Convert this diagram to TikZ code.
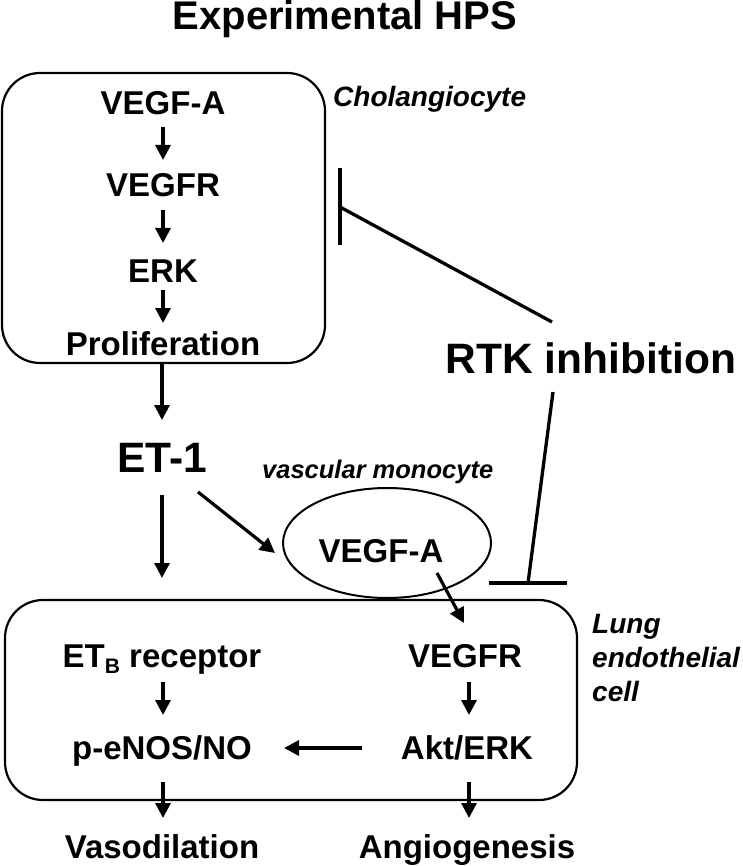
\documentclass[tikz,border=0pt]{standalone}
\usepackage{fontspec}
\setmainfont{Liberation Sans}
\usetikzlibrary{arrows.meta,shapes.geometric}
\tikzset{
  body/.style={font=\bfseries\fontsize{33}{39}\selectfont, inner sep=0pt},
  big/.style={font=\bfseries\fontsize{42.5}{48}\selectfont, inner sep=0pt},
  lab/.style={font=\bfseries\itshape\fontsize{28}{34}\selectfont, inner sep=0pt},
  arr/.style={line width=3.2pt, -{Triangle[length=15pt,width=15pt]}},
  inh/.style={line width=3.3pt},
  cellbox/.style={draw, line width=2.2pt, rounded corners=38pt, inner sep=0pt}
}
\begin{document}
\begin{tikzpicture}[x=1pt,y=-1pt]
\useasboundingbox (0,0) rectangle (742,866);
% title
\node[font=\bfseries\fontsize{40}{46}\selectfont, inner sep=0pt, anchor=base] (title) at (345,30) {Experimental HPS};
% top cell
\node[cellbox, minimum width=323pt, minimum height=290pt] (cholbox) at (163.5,218) {};
\node[lab, anchor=base west] (chol) at (333,107) {Cholangiocyte};
\node[body, anchor=base] (vegfa) at (163,115) {VEGF-A};
\node[body, anchor=base] (vegfr) at (163,197) {VEGFR};
\node[body, anchor=base] (erk) at (163,282) {ERK};
\node[body, anchor=base] (prolif) at (163,355) {Proliferation};
\draw[arr] ([shift={(0,12)}]vegfa.base) -- ([shift={(0,-37)}]vegfr.base);
\draw[arr] ([shift={(0,13)}]vegfr.base) -- ([shift={(0,-39)}]erk.base);
\draw[arr] ([shift={(0,8)}]erk.base) -- ([shift={(0,-32)}]prolif.base);
% ET-1
\node[big, anchor=base] (et1) at (162,472) {ET-1};
\draw[arr] (cholbox.south -| et1.base) -- ([shift={(0,-52)}]et1.base);
\coordinate (etdown) at (162,578);
\draw[arr] ([shift={(0,23)}]et1.base) -- (etdown);
% monocyte
\node[lab, font=\bfseries\itshape\fontsize{25.5}{30}\selectfont, anchor=base west] (vmono) at (262,478) {vascular monocyte};
\node[draw, ellipse, line width=2pt, minimum width=208pt, minimum height=110pt, inner sep=0pt] (mono) at (387,543) {};
\node[body, anchor=base] (vegfa2) at (381,562) {VEGF-A};
\draw[arr] ([shift={(36,20)}]et1.base) -- ([shift={(-7,10)}]mono.west);
% RTK inhibition
\node[big, anchor=base] (rtk) at (591,373) {RTK inhibition};
\coordinate (bar1) at (340,207);
\draw[inh] ([shift={(-39,-51)}]rtk.base) -- (bar1);
\draw[inh] ([shift={(0,-39)}]bar1) -- ([shift={(0,38)}]bar1);
\coordinate (bar2) at (528,583);
\draw[inh] ([shift={(-38,19)}]rtk.base) -- (bar2);
\draw[inh] ([shift={(-39,0)}]bar2) -- ([shift={(39,0)}]bar2);
% bottom cell
\node[cellbox, minimum width=572pt, minimum height=200pt] (lecbox) at (291,700) {};
\node[lab, anchor=base west] (lung) at (592,633) {\begin{tabular}[t]{@{}l@{}}Lung\\endothelial\\cell\end{tabular}};
\node[body, anchor=base] (etb) at (162,667) {ET\raisebox{-6pt}{\fontsize{21}{21}\selectfont B} receptor};
\node[body, anchor=base] (vegfr2) at (465,667) {VEGFR};
\node[body, anchor=base] (penos) at (162,759) {p-eNOS/NO};
\node[body, anchor=base] (akt) at (467,759) {Akt/ERK};
\node[body, anchor=base] (vaso) at (162,858) {Vasodilation};
\node[body, anchor=base] (angio) at (467,858) {Angiogenesis};
\draw[arr] ([shift={(56,11)}]vegfa2.base) -- ([shift={(-1,-44)}]vegfr2.base);
\draw[arr] ([shift={(1,15)}]etb.base) -- ([shift={(1,-44)}]penos.base);
\draw[arr] ([shift={(4,15)}]vegfr2.base) -- ([shift={(2,-44)}]akt.base);
\draw[arr] ([shift={(-105,-11)}]akt.base) -- ([shift={(122,-11)}]penos.base);
\draw[arr] ([shift={(1,23)}]penos.base) -- ([shift={(1,-40)}]vaso.base);
\draw[arr] ([shift={(2,23)}]akt.base) -- ([shift={(2,-40)}]angio.base);
\end{tikzpicture}
\end{document}
